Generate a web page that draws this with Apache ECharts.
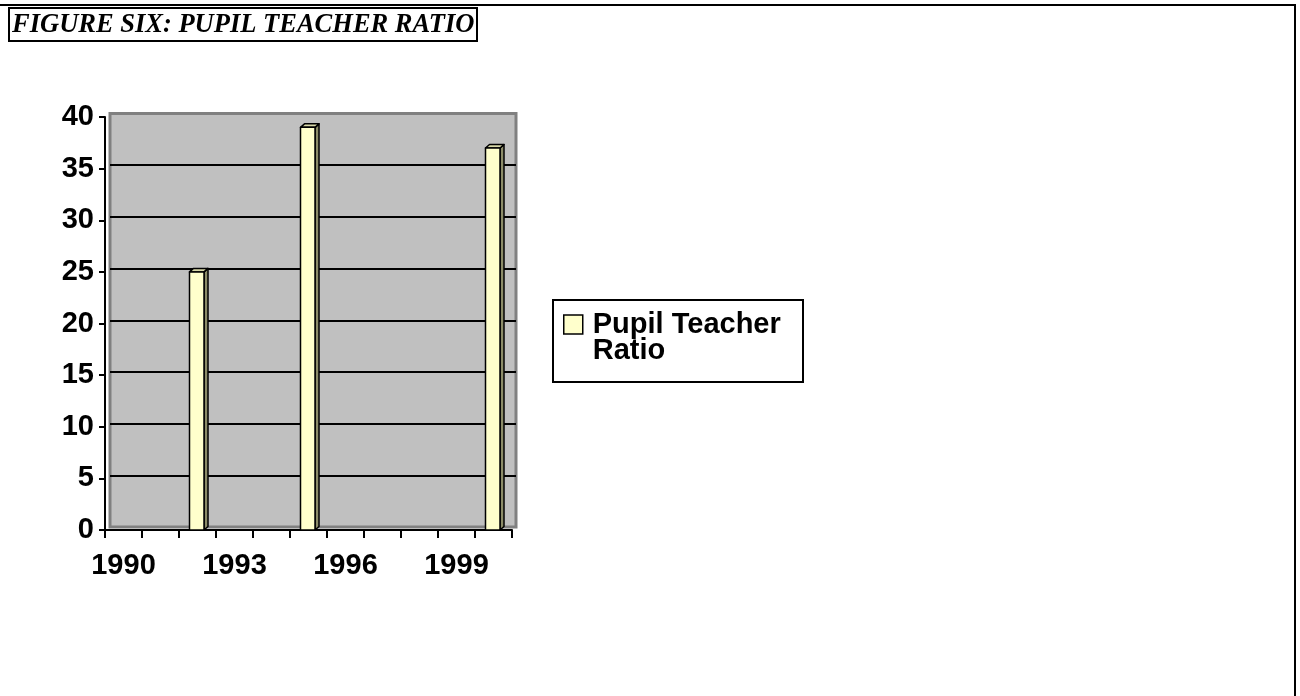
<!DOCTYPE html>
<html>
<head>
<meta charset="utf-8">
<script src="https://cdn.jsdelivr.net/npm/echarts@6/dist/echarts.min.js"></script>
<style>
html,body{margin:0;padding:0;background:#fff;}
#main{width:1300px;height:696px;}
</style>
</head>
<body>
<div id="main"></div>
<script>
// ---- data ----
const years = ['1990','1991','1992','1993','1994','1995','1996','1997','1998','1999','2000'];
const pupilTeacherRatio = [null, null, 25, null, null, 39, null, null, null, null, 37];
const yTicks = [0, 5, 10, 15, 20, 25, 30, 35, 40];
const seriesName = 'Pupil Teacher Ratio';
const legendLines = ['Pupil Teacher', 'Ratio'];
const titleText = 'FIGURE SIX: PUPIL TEACHER RATIO';

const chart = echarts.init(document.getElementById('main'), null, {renderer: 'canvas'});

const yMin = yTicks[0], yMax = yTicks[yTicks.length - 1], yStep = yTicks[1] - yTicks[0];

function renderBar(params, api) {
  const v = api.value(1);
  if (v == null || isNaN(v)) return null;
  const base = api.coord([api.value(0), 0]);
  const top = api.coord([api.value(0), v]);
  const cx = base[0];
  const l = cx - 8, r = cx + 6.5, dx = 4, dy = -3.5;
  const stroke = {stroke: '#000', lineWidth: 1.5, lineJoin: 'round'};
  return {
    type: 'group',
    children: [
      {type: 'polygon', shape: {points: [[r, top[1]], [r + dx, top[1] + dy], [r + dx, base[1] + dy], [r, base[1]]]},
       style: Object.assign({fill: '#8C8C68'}, stroke)},
      {type: 'polygon', shape: {points: [[l, top[1]], [l + dx, top[1] + dy], [r + dx, top[1] + dy], [r, top[1]]]},
       style: Object.assign({fill: '#D8D8A8'}, stroke)},
      {type: 'rect', shape: {x: l, y: top[1], width: r - l, height: base[1] - top[1]},
       style: Object.assign({fill: '#FFFFCC'}, stroke)}
    ]
  };
}

const axisFont = {fontFamily: '"Liberation Sans", Arial, sans-serif', fontWeight: 'bold', fontSize: 29, color: '#000'};

chart.setOption({
  animation: false,
  backgroundColor: '#fff',
  title: {
    text: titleText,
    left: 9, top: 8,
    padding: [4, 3, 2, 3],
    borderColor: '#000', borderWidth: 2,
    textStyle: {fontFamily: '"Liberation Serif", "Times New Roman", serif', fontStyle: 'italic', fontWeight: 'bold', fontSize: 26.5, color: '#000'}
  },
  legend: {
    left: 563, top: 284, padding: 0,
    itemWidth: 19, itemHeight: 19,
    selectedMode: false,
    data: [{name: seriesName, icon: 'rect', itemStyle: {color: '#FFFFCC', borderColor: '#000', borderWidth: 1.5}}],
    formatter: function () { return '\n' + legendLines.join('\n'); },
    textStyle: {fontFamily: '"Liberation Sans", Arial, sans-serif', fontWeight: 'bold', fontSize: 29, color: '#000', lineHeight: 26, padding: [0, 0, 0, 5]}
  },
  grid: [
    {left: 110, right: 784, top: 113.5, bottom: 169, show: true, backgroundColor: '#C0C0C0', borderColor: '#808080', borderWidth: 3},
    {left: 105, right: 788, top: 117, bottom: 166, show: false}
  ],
  xAxis: [
    {gridIndex: 0, type: 'category', data: years, show: false},
    {gridIndex: 1, type: 'category', data: years, boundaryGap: true,
     axisLine: {show: true, lineStyle: {color: '#000', width: 2}},
     axisTick: {show: true, interval: 0, length: 8, lineStyle: {color: '#000', width: 2}},
     axisLabel: Object.assign({interval: 2, margin: 21}, axisFont),
     splitLine: {show: false}}
  ],
  yAxis: [
    {gridIndex: 0, type: 'value', min: yMin, max: yMax, interval: yStep,
     axisLine: {show: false}, axisTick: {show: false}, axisLabel: {show: false},
     splitLine: {show: true, showMinLine: false, showMaxLine: false, lineStyle: {color: '#000', width: 2}}},
    {gridIndex: 1, type: 'value', min: yMin, max: yMax, interval: yStep,
     axisLine: {show: true, lineStyle: {color: '#000', width: 2}},
     axisTick: {show: true, length: 6, lineStyle: {color: '#000', width: 2}},
     axisLabel: Object.assign({margin: 11}, axisFont),
     splitLine: {show: false}}
  ],
  series: [{
    name: seriesName,
    type: 'custom',
    xAxisIndex: 1, yAxisIndex: 1,
    itemStyle: {color: '#FFFFCC', borderColor: '#000'},
    encode: {x: 0, y: 1},
    data: pupilTeacherRatio.map((v, i) => [i, v]),
    renderItem: renderBar
  }],
  graphic: [
    {type: 'polyline', shape: {points: [[0, 5], [1295, 5], [1295, 696]]}, style: {stroke: '#000', lineWidth: 2, fill: null}},
    {type: 'rect', shape: {x: 553, y: 300, width: 250, height: 82}, style: {stroke: '#000', lineWidth: 2, fill: null}}
  ]
});
</script>
</body>
</html>
